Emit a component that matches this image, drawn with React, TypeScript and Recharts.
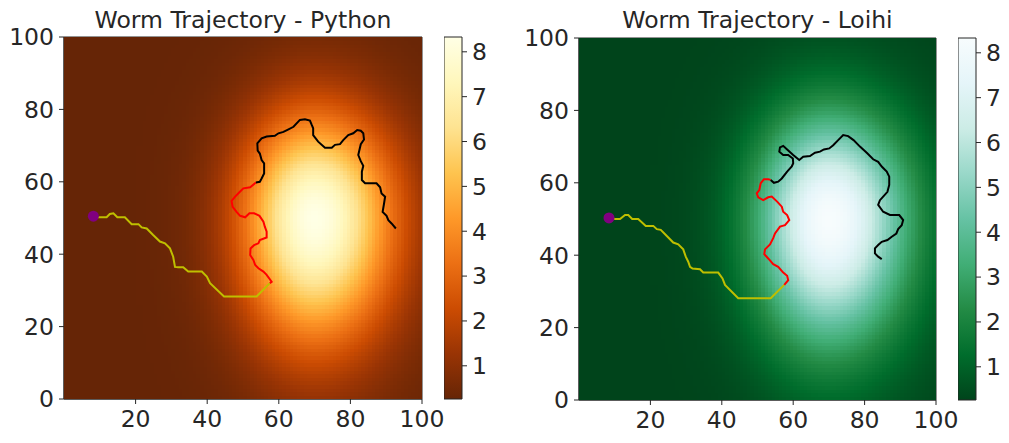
import { ScatterChart, Scatter, XAxis, YAxis, ReferenceArea } from 'recharts';

// field: relative strength along x (through y=50) and along y (through x=70),
// one value per image pixel, centres 0.5, 1.5, ..., 99.5
const X_PROFILE = [
  0, 0, 0, 0, 0, 0, 0, 0, 0, 0,
  0, 0, 0, 0, 0, 0.001, 0.001, 0.001, 0.001, 0.001,
  0.002, 0.002, 0.003, 0.004, 0.005, 0.006, 0.008, 0.01, 0.012, 0.015,
  0.019, 0.023, 0.028, 0.033, 0.04, 0.048, 0.057, 0.068, 0.08, 0.093,
  0.109, 0.126, 0.145, 0.167, 0.19, 0.216, 0.245, 0.275, 0.308, 0.342,
  0.379, 0.418, 0.458, 0.499, 0.542, 0.585, 0.628, 0.671, 0.714, 0.755,
  0.794, 0.832, 0.866, 0.898, 0.926, 0.95, 0.969, 0.984, 0.994, 0.999,
  0.999, 0.995, 0.987, 0.975, 0.959, 0.939, 0.916, 0.89, 0.86, 0.829,
  0.795, 0.759, 0.722, 0.684, 0.646, 0.607, 0.567, 0.529, 0.491, 0.453,
  0.417, 0.382, 0.349, 0.317, 0.287, 0.258, 0.232, 0.207, 0.184, 0.164,
];
const Y_PROFILE = [
  0.119, 0.13, 0.141, 0.153, 0.166, 0.179, 0.193, 0.208, 0.224, 0.241,
  0.258, 0.276, 0.295, 0.315, 0.335, 0.356, 0.378, 0.4, 0.423, 0.446,
  0.47, 0.494, 0.519, 0.544, 0.569, 0.594, 0.619, 0.644, 0.67, 0.694,
  0.719, 0.743, 0.767, 0.79, 0.812, 0.833, 0.854, 0.873, 0.892, 0.909,
  0.925, 0.939, 0.952, 0.964, 0.974, 0.983, 0.989, 0.995, 0.998, 1.0,
  1.0, 0.997, 0.992, 0.985, 0.975, 0.963, 0.949, 0.932, 0.914, 0.893,
  0.871, 0.848, 0.823, 0.796, 0.769, 0.741, 0.712, 0.682, 0.652, 0.622,
  0.591, 0.561, 0.531, 0.501, 0.472, 0.444, 0.416, 0.389, 0.362, 0.337,
  0.313, 0.289, 0.267, 0.246, 0.226, 0.207, 0.189, 0.172, 0.157, 0.142,
  0.129, 0.116, 0.105, 0.094, 0.084, 0.075, 0.067, 0.06, 0.053, 0.047,
];
const FIELD_MIN = 0.26;
const FIELD_MAX = 8.33;

const X_TICKS = [20, 40, 60, 80, 100];
const Y_TICKS = [0, 20, 40, 60, 80, 100];
const CBAR_TICKS = [1, 2, 3, 4, 5, 6, 7, 8];

const PY_START = [{ x: 8.2, y: 50.5 }];
const PY_YELLOW = [
  { x: 8.2, y: 50.5 }, { x: 9.6, y: 50.2 }, { x: 11.9, y: 50.2 }, { x: 12.8, y: 51.1 }, { x: 13.8, y: 51.3 },
  { x: 14.9, y: 50.2 }, { x: 17, y: 50.2 }, { x: 18.9, y: 48.3 }, { x: 20.8, y: 48.3 }, { x: 21.7, y: 47.4 },
  { x: 23.1, y: 47.1 }, { x: 24.9, y: 45.3 }, { x: 26.8, y: 43.5 }, { x: 28.2, y: 43 }, { x: 29.6, y: 41.6 },
  { x: 30.5, y: 39.3 }, { x: 31, y: 36.5 }, { x: 31.9, y: 36.4 }, { x: 33.3, y: 36.4 }, { x: 34.7, y: 35.2 },
  { x: 38.5, y: 35.2 }, { x: 39.9, y: 33.8 }, { x: 40.8, y: 32 }, { x: 44.7, y: 28.3 }, { x: 53.8, y: 28.3 },
  { x: 57.5, y: 32 },
];
const PY_RED = [
  { x: 57.5, y: 32 }, { x: 58, y: 32.4 }, { x: 56.6, y: 34.3 }, { x: 55.7, y: 35.2 }, { x: 54.3, y: 36.1 },
  { x: 53.4, y: 37 }, { x: 52.9, y: 38.4 }, { x: 52, y: 39.8 }, { x: 52.1, y: 41.6 }, { x: 53.1, y: 42.5 },
  { x: 54.3, y: 43 }, { x: 54.7, y: 43.9 }, { x: 56.6, y: 44.6 }, { x: 56.6, y: 46.2 }, { x: 56.1, y: 47.6 },
  { x: 55.7, y: 49 }, { x: 54.6, y: 50.6 }, { x: 53.1, y: 51.3 }, { x: 51.8, y: 51.3 }, { x: 50.6, y: 50.2 },
  { x: 49.2, y: 50.6 }, { x: 48.2, y: 51.7 }, { x: 47.1, y: 53.1 }, { x: 46.8, y: 54.7 }, { x: 47.8, y: 55.9 },
  { x: 49.2, y: 57.3 }, { x: 50.1, y: 58.2 }, { x: 52, y: 58.5 }, { x: 53.6, y: 59.8 },
];
const PY_BLACK = [
  { x: 53.6, y: 59.8 }, { x: 54.7, y: 60 }, { x: 55.2, y: 60.9 }, { x: 55.9, y: 62.3 }, { x: 55.9, y: 65.1 },
  { x: 55.2, y: 66 }, { x: 54.7, y: 67.8 }, { x: 54.1, y: 68.6 }, { x: 54, y: 70.6 }, { x: 55.2, y: 72 },
  { x: 56.6, y: 72.5 }, { x: 58.9, y: 72.7 }, { x: 59.9, y: 73.4 }, { x: 61.3, y: 73.8 }, { x: 62.7, y: 74.5 },
  { x: 64.1, y: 75.2 }, { x: 65.9, y: 77.1 }, { x: 67.3, y: 77.3 }, { x: 68.7, y: 76.9 }, { x: 69.2, y: 75.7 },
  { x: 69.6, y: 74.8 }, { x: 69.6, y: 72.9 }, { x: 71, y: 71.1 }, { x: 72.9, y: 69.4 }, { x: 74.8, y: 69.4 },
  { x: 75.7, y: 70.2 }, { x: 77.1, y: 70.4 }, { x: 78, y: 71.5 }, { x: 79.4, y: 72.9 }, { x: 80.8, y: 73.4 },
  { x: 81.9, y: 74.3 }, { x: 82.9, y: 74.1 }, { x: 83.6, y: 73.4 }, { x: 83.8, y: 71.7 }, { x: 82.9, y: 70.4 },
  { x: 82.2, y: 67.4 }, { x: 82.9, y: 65.7 }, { x: 83.6, y: 64.4 }, { x: 83.2, y: 62.8 }, { x: 83.2, y: 60.5 },
  { x: 84.1, y: 59.6 }, { x: 87.3, y: 59.6 }, { x: 88.3, y: 58.5 }, { x: 88.7, y: 56.8 }, { x: 89.7, y: 55.9 },
  { x: 89.4, y: 54 }, { x: 89, y: 51.7 }, { x: 90.1, y: 50.6 }, { x: 90.6, y: 49.4 }, { x: 91.5, y: 48.5 },
  { x: 92.7, y: 47.1 },
];

const LH_START = [{ x: 8.4, y: 50.3 }];
const LH_YELLOW = [
  { x: 8.4, y: 50.3 }, { x: 10.1, y: 50 }, { x: 11.5, y: 50 }, { x: 12.9, y: 51.1 }, { x: 13.8, y: 51.1 },
  { x: 14.9, y: 50 }, { x: 16.6, y: 50 }, { x: 18.7, y: 48.1 }, { x: 20.8, y: 48.1 }, { x: 21.8, y: 47.2 },
  { x: 22.9, y: 47 }, { x: 24.6, y: 45.3 }, { x: 26.4, y: 43.5 }, { x: 27.8, y: 43 }, { x: 29.2, y: 41.6 },
  { x: 29.9, y: 39.6 }, { x: 30.6, y: 38.2 }, { x: 31.1, y: 36.8 }, { x: 31.8, y: 36.3 }, { x: 33.9, y: 36.1 },
  { x: 34.8, y: 35.2 }, { x: 39, y: 35.2 }, { x: 40.2, y: 33.6 }, { x: 40.9, y: 31.8 }, { x: 44.6, y: 28.1 },
  { x: 53.7, y: 28.1 }, { x: 57.5, y: 31.8 },
];
const LH_RED = [
  { x: 57.5, y: 31.8 }, { x: 58.6, y: 33.1 }, { x: 58.3, y: 34.3 }, { x: 57.2, y: 35.2 }, { x: 55.8, y: 36.8 },
  { x: 54.4, y: 37.5 }, { x: 53, y: 39.1 }, { x: 51.9, y: 40.3 }, { x: 52.1, y: 41.6 }, { x: 53.5, y: 43 },
  { x: 54.4, y: 44.7 }, { x: 54.9, y: 46 }, { x: 56.3, y: 47.9 }, { x: 57.7, y: 48.3 }, { x: 58.9, y: 49.7 },
  { x: 58.3, y: 51.1 }, { x: 57.2, y: 52 }, { x: 56.8, y: 53.4 }, { x: 55.5, y: 54.8 }, { x: 54, y: 56.2 },
  { x: 53, y: 56 }, { x: 51.6, y: 55.2 }, { x: 50.2, y: 56 }, { x: 49.8, y: 57.1 }, { x: 50.5, y: 58 },
  { x: 50.9, y: 59.9 }, { x: 51.8, y: 61 }, { x: 53, y: 61 }, { x: 53.7, y: 60.8 },
];
const LH_BLACK = [
  { x: 53.7, y: 60.8 }, { x: 54.6, y: 60 }, { x: 55.8, y: 60.3 }, { x: 56.8, y: 61.2 }, { x: 58.3, y: 63.1 },
  { x: 59.6, y: 64.5 }, { x: 60, y: 65.4 }, { x: 59.9, y: 66.7 }, { x: 58.6, y: 67.7 }, { x: 57.2, y: 67.7 },
  { x: 56.1, y: 68.6 }, { x: 56.3, y: 69.8 }, { x: 57.2, y: 70.2 }, { x: 58.3, y: 69.2 }, { x: 60, y: 67.7 },
  { x: 61.7, y: 66.3 }, { x: 62.8, y: 67.2 }, { x: 64.7, y: 67.4 }, { x: 66.1, y: 68.3 }, { x: 67.5, y: 68.6 },
  { x: 68.6, y: 69.2 }, { x: 70.1, y: 69.5 }, { x: 71.2, y: 70.4 }, { x: 72.6, y: 71.8 }, { x: 74, y: 73.2 },
  { x: 75.4, y: 72.9 }, { x: 76.9, y: 71.8 }, { x: 78.7, y: 70 }, { x: 80.6, y: 68.3 }, { x: 82.4, y: 66.5 },
  { x: 83.8, y: 65.8 }, { x: 84.8, y: 64.5 }, { x: 86.2, y: 63.1 }, { x: 86.9, y: 61.7 }, { x: 86.9, y: 59.4 },
  { x: 86.4, y: 57.5 }, { x: 85.2, y: 56.2 }, { x: 84.3, y: 55.2 }, { x: 83.8, y: 53.9 }, { x: 85.2, y: 52 },
  { x: 87.1, y: 51.1 }, { x: 89.7, y: 51.1 }, { x: 90.8, y: 49.7 }, { x: 90.4, y: 48.3 }, { x: 89.4, y: 47.2 },
  { x: 88.9, y: 46 }, { x: 87.6, y: 45.1 }, { x: 86.4, y: 44.2 }, { x: 84.8, y: 43.7 }, { x: 83.8, y: 42.8 },
  { x: 82.9, y: 41.9 }, { x: 82.9, y: 40.5 }, { x: 83.8, y: 39.6 }, { x: 84.8, y: 38.9 },
];

// colormaps, low -> high
const YLORBR_R = ['#662506', '#993404', '#cc4c02', '#ec7014', '#fe9929', '#fec44f', '#fee391', '#fff7bc', '#ffffe5'];
const BUGN_R = ['#00441b', '#006d2c', '#238b45', '#41ae76', '#66c2a4', '#99d8c9', '#ccece6', '#e5f5f9', '#f7fcfd'];

const FONT = 'DejaVu Sans';
const INK = '#262626';
const FONT_SIZE = 23.5;

function hexToRgb(h: string) {
  return [parseInt(h.slice(1, 3), 16), parseInt(h.slice(3, 5), 16), parseInt(h.slice(5, 7), 16)];
}

function colorAt(palette: string[], v: number) {
  const t = Math.min(1, Math.max(0, (v - FIELD_MIN) / (FIELD_MAX - FIELD_MIN)));
  const c = t * (palette.length - 1);
  const i = Math.min(palette.length - 2, Math.floor(c));
  const f = c - i;
  const a = hexToRgb(palette[i]);
  const b = hexToRgb(palette[i + 1]);
  const mix = a.map((av, k) => Math.round(av + (b[k] - av) * f));
  return `rgb(${mix[0]},${mix[1]},${mix[2]})`;
}

const FIELD = Y_PROFILE.flatMap((fy, j) =>
  X_PROFILE.map((fx, i) => ({
    x: 0.5 + i,
    y: 0.5 + j,
    v: FIELD_MIN + (FIELD_MAX - FIELD_MIN) * fx * fy,
  })),
);

const PY_FIELD = FIELD.map((d) => ({ ...d, fill: colorAt(YLORBR_R, d.v) }));
const LH_FIELD = FIELD.map((d) => ({ ...d, fill: colorAt(BUGN_R, d.v) }));

type Pt = { x: number; y: number };

interface PanelProps {
  left: number;
  top: number;
  plotW: number;
  plotH: number;
  title: string;
  palette: string[];
  field: { x: number; y: number; fill: string }[];
  gradId: string;
  start: Pt[];
  yellow: Pt[];
  red: Pt[];
  black: Pt[];
}

function Panel({ left, top, plotW, plotH, title, palette, field, gradId, start, yellow, red, black }: PanelProps) {
  const yAxisW = 64;
  const chartW = yAxisW + plotW + 40;
  const chartH = 443;
  const cw = plotW / X_PROFILE.length;
  const ch = plotH / Y_PROFILE.length;
  const bottom = chartH - top - plotH;

  const cellShape = (props: any) => {
    const { cx, cy, payload } = props;
    if (cx == null || cy == null) return <g />;
    return (
      <rect
        x={cx - cw / 2}
        y={cy - ch / 2}
        width={cw + 0.5}
        height={ch + 0.5}
        fill={payload.fill}
        shapeRendering="crispEdges"
      />
    );
  };

  const noDot = () => <g />;
  const tickStyle = { fontSize: FONT_SIZE, fill: INK, fontFamily: FONT };
  const cbarLeft = left + yAxisW + plotW + 22;

  return (
    <>
      <div
        style={{
          position: 'absolute',
          left: left + yAxisW - 20,
          top: 6,
          width: plotW + 40,
          textAlign: 'center',
          fontFamily: FONT,
          fontSize: FONT_SIZE,
          lineHeight: '28px',
          color: INK,
          whiteSpace: 'nowrap',
        }}
      >
        {title}
      </div>
      <div style={{ position: 'absolute', left, top: 0 }}>
        <ScatterChart
          width={chartW}
          height={chartH}
          margin={{ top, right: chartW - yAxisW - plotW, bottom: 0, left: 0 }}
        >
          <XAxis
            type="number"
            dataKey="x"
            domain={[0, 100]}
            ticks={X_TICKS}
            interval={0}
            allowDataOverflow
            height={bottom}
            tickSize={5}
            tickMargin={6}
            stroke={INK}
            tick={tickStyle}
          />
          <YAxis
            type="number"
            dataKey="y"
            domain={[0, 100]}
            ticks={Y_TICKS}
            interval={0}
            allowDataOverflow
            width={yAxisW}
            tickSize={5}
            tickMargin={5}
            stroke={INK}
            tick={tickStyle}
          />
          <Scatter data={field} shape={cellShape} isAnimationActive={false} />
          <Scatter data={yellow} shape={noDot} line={{ stroke: '#bfbf00', strokeWidth: 2 }} isAnimationActive={false} />
          <Scatter data={red} shape={noDot} line={{ stroke: '#ff0000', strokeWidth: 2 }} isAnimationActive={false} />
          <Scatter data={black} shape={noDot} line={{ stroke: '#000000', strokeWidth: 2 }} isAnimationActive={false} />
          <Scatter
            data={start}
            shape={(p: any) => <circle cx={p.cx} cy={p.cy} r={5.5} fill="#800080" />}
            isAnimationActive={false}
          />
          <ReferenceArea x1={0} x2={100} y1={0} y2={100} fill="none" stroke={INK} strokeWidth={1} ifOverflow="visible" />
        </ScatterChart>
      </div>
      <div style={{ position: 'absolute', left: cbarLeft, top: 0 }}>
        <ScatterChart width={70} height={chartH} margin={{ top, right: 0, bottom, left: 0 }}>
          <defs>
            <linearGradient id={gradId} x1="0" y1="1" x2="0" y2="0">
              {palette.map((c, i) => (
                <stop key={i} offset={`${(i / (palette.length - 1)) * 100}%`} stopColor={c} />
              ))}
            </linearGradient>
          </defs>
          <XAxis type="number" dataKey="x" domain={[0, 1]} hide />
          <YAxis
            type="number"
            dataKey="y"
            orientation="right"
            domain={[FIELD_MIN, FIELD_MAX]}
            ticks={CBAR_TICKS}
            interval={0}
            allowDataOverflow
            width={52}
            tickSize={5}
            tickMargin={5}
            stroke={INK}
            axisLine={false}
            tick={tickStyle}
          />
          <Scatter
            data={[{ x: 0.5, y: FIELD_MIN }, { x: 0.5, y: FIELD_MAX }]}
            shape={noDot}
            isAnimationActive={false}
          />
          <ReferenceArea
            x1={0}
            x2={1}
            y1={FIELD_MIN}
            y2={FIELD_MAX}
            fill={`url(#${gradId})`}
            fillOpacity={1}
            stroke={INK}
            strokeWidth={1}
            ifOverflow="visible"
          />
        </ScatterChart>
      </div>
    </>
  );
}

export default function App() {
  return (
    <div
      style={{
        position: 'absolute',
        left: 0,
        top: 0,
        width: 1009,
        height: 443,
        background: '#ffffff',
        overflow: 'hidden',
      }}
    >
      <Panel
        left={0}
        top={37}
        plotW={358}
        plotH={362}
        title="Worm Trajectory - Python"
        palette={YLORBR_R}
        field={PY_FIELD}
        gradId="cbarPython"
        start={PY_START}
        yellow={PY_YELLOW}
        red={PY_RED}
        black={PY_BLACK}
      />
      <Panel
        left={515}
        top={38}
        plotW={357}
        plotH={362}
        title="Worm Trajectory - Loihi"
        palette={BUGN_R}
        field={LH_FIELD}
        gradId="cbarLoihi"
        start={LH_START}
        yellow={LH_YELLOW}
        red={LH_RED}
        black={LH_BLACK}
      />
    </div>
  );
}
